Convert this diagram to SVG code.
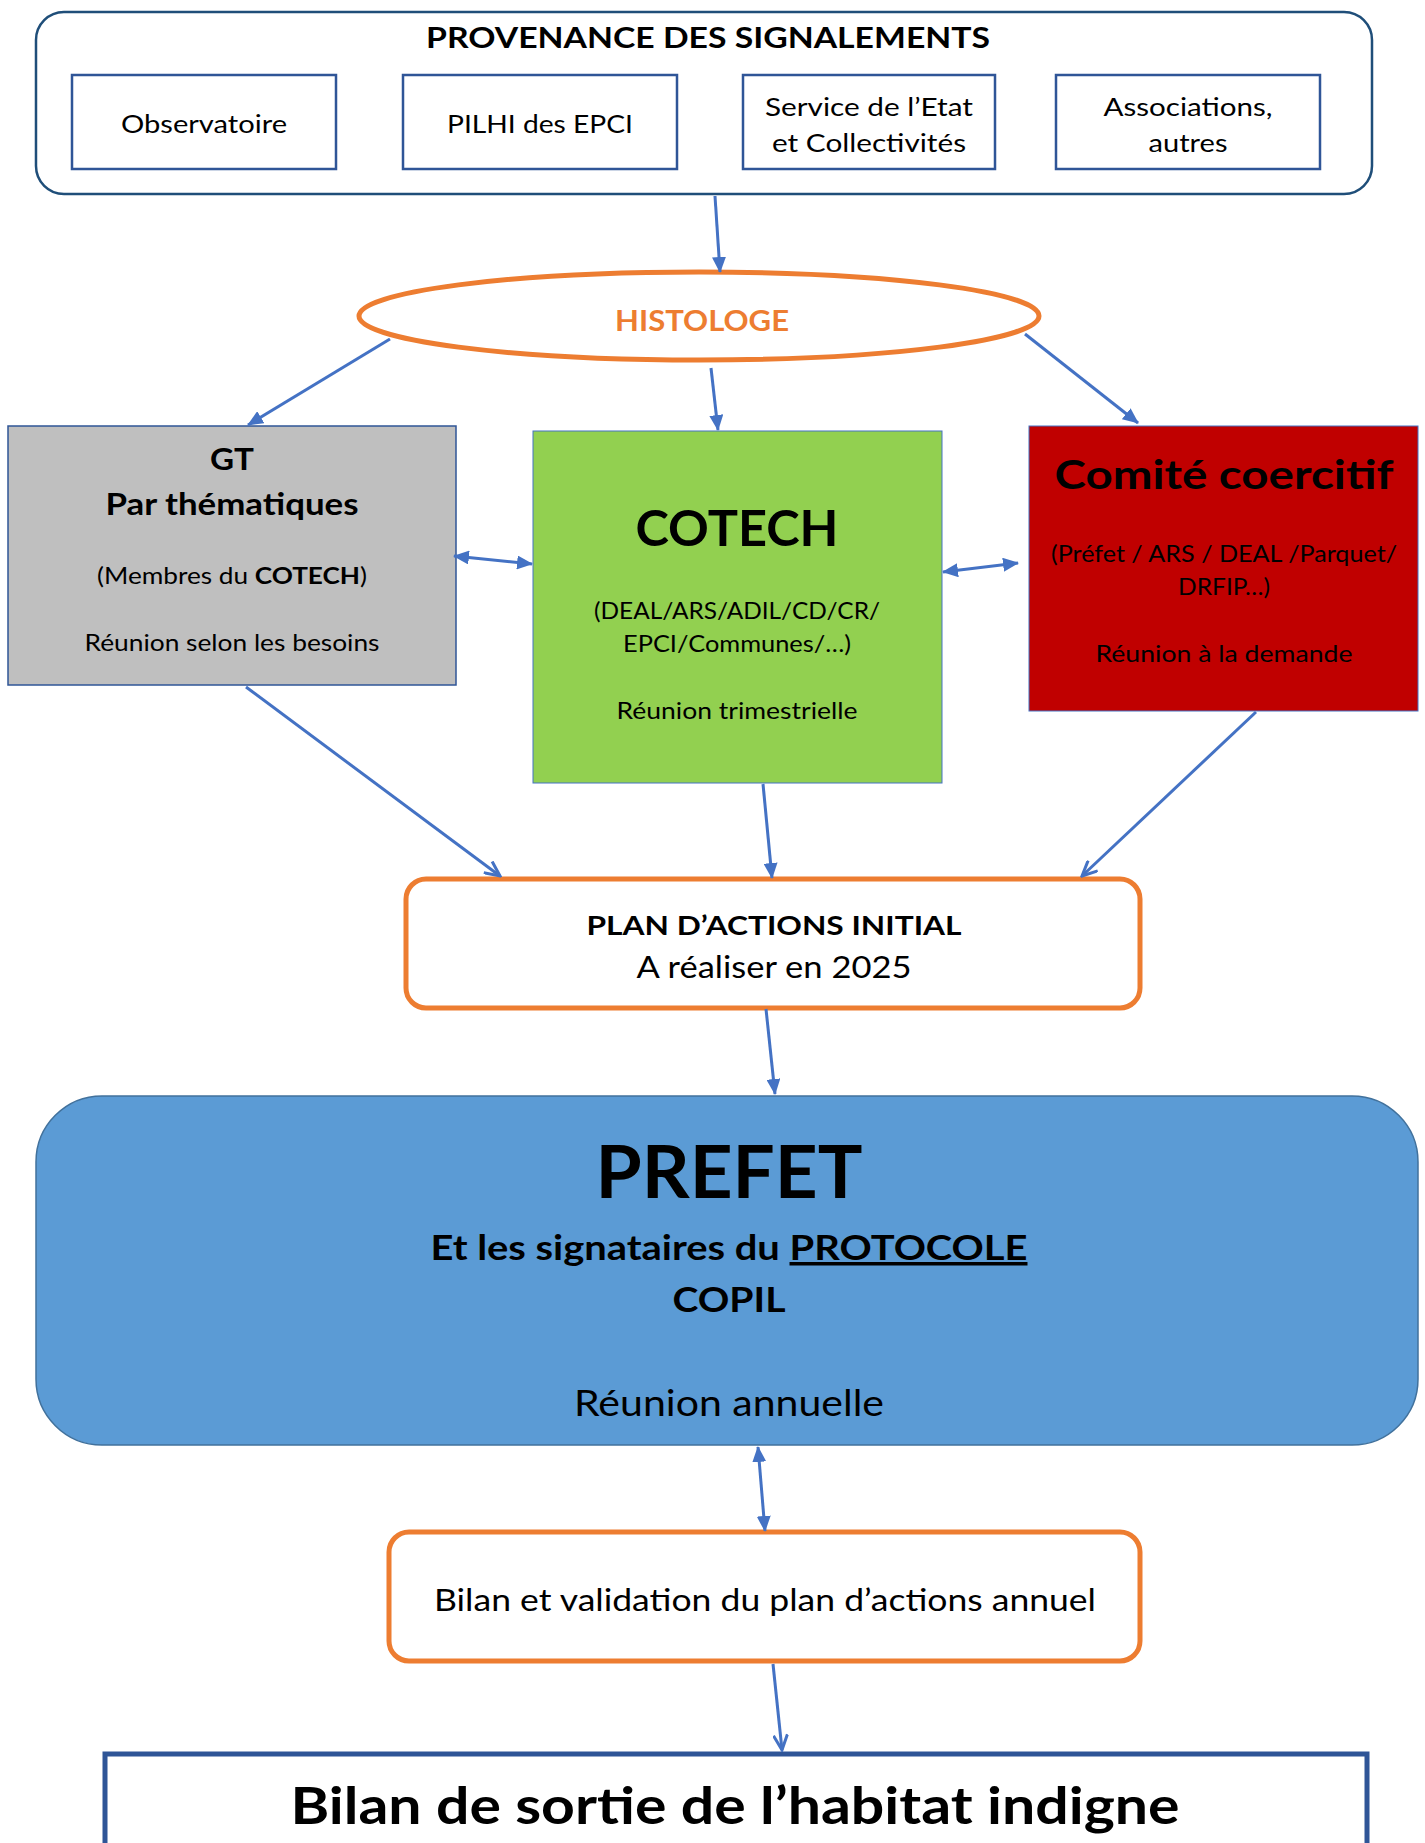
<svg xmlns="http://www.w3.org/2000/svg" width="1425" height="1843" viewBox="0 0 1425 1843">
<style>
text{font-family:Lato,"Noto Sans","Liberation Sans",sans-serif;fill:#000;text-anchor:middle}
.b{font-weight:bold}
.src{fill:#fff;stroke:#2F5597;stroke-width:2.5}
.conn{stroke:#4472C4;stroke-width:3;fill:none}
</style>
<defs>
<marker id="tri" markerUnits="userSpaceOnUse" markerWidth="16" markerHeight="14" refX="15" refY="7" orient="auto-start-reverse">
<path d="M0,0 L16,7 L0,14 z" fill="#4472C4"/>
</marker>
<marker id="open" markerUnits="userSpaceOnUse" markerWidth="18" markerHeight="16" refX="16" refY="8" orient="auto">
<path d="M1,1 L16,8 L1,15" fill="none" stroke="#4472C4" stroke-width="3"/>
</marker>
</defs>
<rect width="1425" height="1843" fill="#fff"/>

<g id="provenance">
<rect x="36" y="12" width="1336" height="182" rx="28" fill="#fff" stroke="#1F4E79" stroke-width="2.5"/>
<text x="708" y="48" class="b" font-size="29" textLength="564" lengthAdjust="spacingAndGlyphs">PROVENANCE DES SIGNALEMENTS</text>
</g>
<g id="observatoire">
<rect class="src" x="72" y="75" width="264" height="94"/>
<text x="204" y="133" font-size="25" textLength="166" lengthAdjust="spacingAndGlyphs">Observatoire</text>
</g>
<g id="pilhi">
<rect class="src" x="403" y="75" width="274" height="94"/>
<text x="540" y="133" font-size="25" textLength="186" lengthAdjust="spacingAndGlyphs">PILHI des EPCI</text>
</g>
<g id="service">
<rect class="src" x="743" y="75" width="252" height="94"/>
<text x="869" y="116" font-size="25" textLength="208" lengthAdjust="spacingAndGlyphs">Service de l’Etat</text>
<text x="869" y="152" font-size="25" textLength="194" lengthAdjust="spacingAndGlyphs">et Collectivités</text>
</g>
<g id="associations">
<rect class="src" x="1056" y="75" width="264" height="94"/>
<text x="1188" y="116" font-size="25" textLength="169" lengthAdjust="spacingAndGlyphs">Associations,</text>
<text x="1188" y="152" font-size="25" textLength="79" lengthAdjust="spacingAndGlyphs">autres</text>
</g>

<g id="histologe">
<ellipse cx="699" cy="316" rx="340" ry="44" fill="#fff" stroke="#ED7D31" stroke-width="5"/>
<text x="702" y="331" class="b" font-size="28" style="fill:#ED7D31" textLength="174" lengthAdjust="spacingAndGlyphs">HISTOLOGE</text>
</g>

<g id="gt">
<rect x="8" y="426" width="448" height="259" fill="#BFBFBF" stroke="#2F5597" stroke-width="1.5"/>
<text x="232" y="470" class="b" font-size="30" textLength="44" lengthAdjust="spacingAndGlyphs">GT</text>
<text x="232" y="515" class="b" font-size="30" textLength="253" lengthAdjust="spacingAndGlyphs">Par thématiques</text>
<text x="232" y="584" font-size="23" textLength="270" lengthAdjust="spacingAndGlyphs">(Membres du <tspan class="b">COTECH</tspan>)</text>
<text x="232" y="651" font-size="23" textLength="295" lengthAdjust="spacingAndGlyphs">Réunion selon les besoins</text>
</g>

<g id="cotech">
<rect x="533" y="431" width="409" height="352" fill="#92D050" stroke="#4472C4" stroke-width="1"/>
<text x="737" y="546" class="b" font-size="50" textLength="203" lengthAdjust="spacingAndGlyphs">COTECH</text>
<text x="737" y="619" font-size="23" textLength="286" lengthAdjust="spacingAndGlyphs">(DEAL/ARS/ADIL/CD/CR/</text>
<text x="737" y="652" font-size="23" textLength="228" lengthAdjust="spacingAndGlyphs">EPCI/Communes/…)</text>
<text x="737" y="719" font-size="23" textLength="241" lengthAdjust="spacingAndGlyphs">Réunion trimestrielle</text>
</g>

<g id="comite">
<rect x="1029" y="426" width="389" height="285" fill="#C00000" stroke="#4472C4" stroke-width="1"/>
<text x="1224" y="489" class="b" font-size="41" textLength="339" lengthAdjust="spacingAndGlyphs">Comité coercitif</text>
<text x="1224" y="562" font-size="23" textLength="346" lengthAdjust="spacingAndGlyphs">(Préfet / ARS / DEAL /Parquet/</text>
<text x="1224" y="595" font-size="23" textLength="92" lengthAdjust="spacingAndGlyphs">DRFIP…)</text>
<text x="1224" y="662" font-size="23" textLength="257" lengthAdjust="spacingAndGlyphs">Réunion à la demande</text>
</g>

<g id="plan">
<rect x="406" y="879" width="734" height="129" rx="20" fill="#fff" stroke="#ED7D31" stroke-width="5"/>
<text x="774" y="935" class="b" font-size="27" textLength="375" lengthAdjust="spacingAndGlyphs">PLAN D’ACTIONS INITIAL</text>
<text x="774" y="978" font-size="30" textLength="275" lengthAdjust="spacingAndGlyphs">A réaliser en 2025</text>
</g>

<g id="prefet">
<rect x="36" y="1096" width="1382" height="349" rx="66" fill="#5B9BD5" stroke="#41719C" stroke-width="1.5"/>
<text x="729" y="1198" class="b" font-size="72" textLength="267" lengthAdjust="spacingAndGlyphs">PREFET</text>
<text x="729" y="1260" class="b" font-size="35" textLength="597" lengthAdjust="spacingAndGlyphs">Et les signataires du <tspan text-decoration="underline">PROTOCOLE</tspan></text>
<text x="729" y="1312" class="b" font-size="35" textLength="113" lengthAdjust="spacingAndGlyphs">COPIL</text>
<text x="729" y="1416" font-size="37" textLength="310" lengthAdjust="spacingAndGlyphs">Réunion annuelle</text>
</g>

<g id="bilan">
<rect x="389" y="1532" width="751" height="129" rx="20" fill="#fff" stroke="#ED7D31" stroke-width="5"/>
<text x="765" y="1611" font-size="31" textLength="662" lengthAdjust="spacingAndGlyphs">Bilan et validation du plan d’actions annuel</text>
</g>

<g id="sortie">
<rect x="105" y="1754" width="1262" height="120" fill="#fff" stroke="#2F5597" stroke-width="5"/>
<text x="735" y="1824" class="b" font-size="52" textLength="889" lengthAdjust="spacingAndGlyphs">Bilan de sortie de l’habitat indigne</text>
</g>

<g id="connectors" class="conn">
<line x1="715" y1="196" x2="720" y2="272" marker-end="url(#tri)"/>
<line x1="390" y1="339" x2="248" y2="425" marker-end="url(#tri)"/>
<line x1="711" y1="368" x2="718" y2="430" marker-end="url(#tri)"/>
<line x1="1025" y1="334" x2="1138" y2="423" marker-end="url(#tri)"/>
<line x1="454" y1="556" x2="532" y2="564" marker-start="url(#tri)" marker-end="url(#tri)"/>
<line x1="943" y1="572" x2="1018" y2="563" marker-start="url(#tri)" marker-end="url(#tri)"/>
<line x1="246" y1="687" x2="500" y2="876" marker-end="url(#open)"/>
<line x1="763" y1="784" x2="772" y2="878" marker-end="url(#tri)"/>
<line x1="1256" y1="712" x2="1082" y2="876" marker-end="url(#open)"/>
<line x1="766" y1="1009" x2="775" y2="1094" marker-end="url(#tri)"/>
<line x1="758" y1="1447" x2="765" y2="1531" marker-start="url(#tri)" marker-end="url(#tri)"/>
<line x1="773" y1="1664" x2="782" y2="1750" marker-end="url(#open)"/>
</g>
</svg>
